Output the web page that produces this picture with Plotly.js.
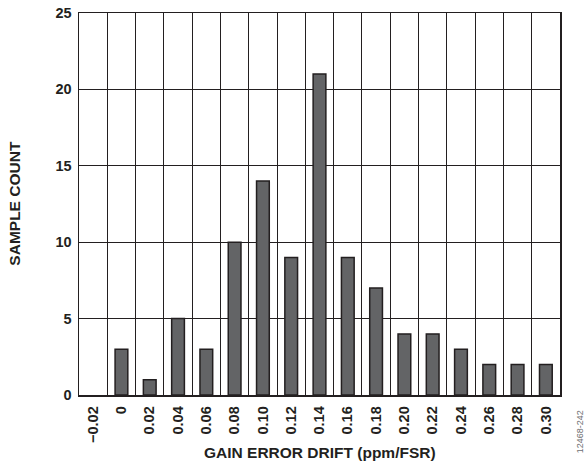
<!DOCTYPE html>
<html><head><meta charset="utf-8">
<script src="https://cdn.plot.ly/plotly-3.0.1.min.js"></script>
<style>html,body{margin:0;padding:0;background:#fff}</style>
</head><body>
<div id="chart" style="width:588px;height:465px"></div>
<script>
const categories = ["−0.02","0","0.02","0.04","0.06","0.08","0.10","0.12","0.14","0.16","0.18","0.20","0.22","0.24","0.26","0.28","0.30"];
const counts = [0,3,1,5,3,10,14,9,21,9,7,4,4,3,2,2,2];
const yTicks = [0,5,10,15,20,25];

const fam = "Liberation Sans, Arial, sans-serif";
const ink = "#231f20";
Plotly.newPlot("chart", [{
  type:"bar", x:categories, y:counts, width:0.45,
  marker:{color:"#636466", line:{color:ink, width:counts.map(v => v ? 1.5 : 0)}},
  hoverinfo:"skip"
}], {
  width:588, height:465,
  margin:{l:79, r:28, t:13, b:70},
  paper_bgcolor:"#fff", plot_bgcolor:"#fff",
  showlegend:false,
  font:{family:fam, size:14.5, color:ink},
  xaxis:{type:"category", tickson:"boundaries", ticks:"", showgrid:true, gridcolor:ink, gridwidth:1,
    showline:true, linecolor:ink, linewidth:1.5, mirror:true, tickangle:-90, ticklabelstandoff:4,
    tickfont:{family:fam, size:14.5, color:ink, weight:"bold"},
    range:[-0.5,16.5], fixedrange:true},
  yaxis:{range:[0,25], tickvals:yTicks, ticktext:yTicks.map(String), showgrid:true, gridcolor:ink, gridwidth:1,
    showline:true, linecolor:ink, linewidth:1.5, mirror:true, ticks:"", zeroline:false, ticklabelstandoff:3,
    tickfont:{family:fam, size:14.5, color:ink, weight:"bold"},
    fixedrange:true},
  annotations:[
    {text:"<b>GAIN ERROR DRIFT (ppm/FSR)</b>", xref:"paper", yref:"paper", x:0.501, y:-0.1505, showarrow:false,
      xanchor:"center", yanchor:"middle", font:{family:fam, size:15.5, color:ink}},
    {text:"<b>SAMPLE COUNT</b>", xref:"paper", yref:"paper", x:-0.133, y:0.501, showarrow:false, textangle:-90,
      xanchor:"center", yanchor:"middle", font:{family:fam, size:15.5, color:ink}},
    {text:"12468-242", xref:"paper", yref:"paper", x:1.042, y:-0.097, showarrow:false, textangle:-90,
      font:{family:fam, size:9, color:"#6d6e71"}, xanchor:"center", yanchor:"middle"}
  ]
}, {displayModeBar:false, staticPlot:true});
</script>
</body></html>
